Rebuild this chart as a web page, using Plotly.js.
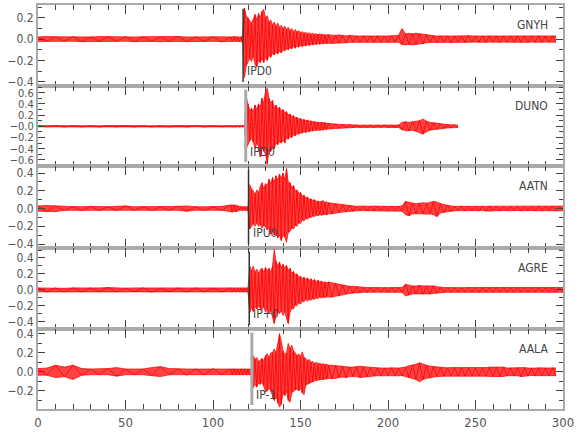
<!DOCTYPE html>
<html>
<head>
<meta charset="utf-8">
<script src="https://cdn.plot.ly/plotly-3.0.1.min.js"></script>
<style>html,body{margin:0;padding:0;background:#fff;}#chart{width:580px;height:440px;}</style>
</head>
<body>
<div id="chart"></div>
<script>
// shared time grid (seconds): A = 0..110 step 5 (23), B = 111..166 step 1 (56), C = 168..300 step 2 (67)
const timeA = [0,5,10,15,20,25,30,35,40,45,50,55,60,65,70,75,80,85,90,95,100,105,110];
const timeB = [111,112,113,114,115,116,117,118,119,120,121,122,123,124,125,126,127,128,129,130,131,132,133,134,135,136,137,138,139,140,141,142,143,144,145,146,147,148,149,150,151,152,153,154,155,156,157,158,159,160,161,162,163,164,165,166];
const timeC = [168,170,172,174,176,178,180,182,184,186,188,190,192,194,196,198,200,202,204,206,208,210,212,214,216,218,220,222,224,226,228,230,232,234,236,238,240,242,244,246,248,250,252,254,256,258,260,262,264,266,268,270,272,274,276,278,280,282,284,286,288,290,292,294,296,298,300];

const stations = ["GNYH","DUNO","AATN","AGRE","AALA"];
const phaseLabels = ["IPD0","IPD0","IPU0","IP+0","IP-1"];
const pickTimes = [117.2,118.7,120.3,120.7,122.2];

// ---- GNYH envelope (upper / lower) ----
const gnyhUp = [
 0.02,0.025,0.022,0.02,0.025,0.022,0.02,0.024,0.022,0.02,
 0.025,0.02,0.022,0.024,0.02,0.022,0.025,0.02,0.022,0.02,
 0.024,0.022,0.02,
 0.022,0.02,0.025,0.02,0.022,0.02,0.03,0.29,0.22,0.2,
 0.17,0.15,0.19,0.23,0.18,0.24,0.2,0.26,0.28,0.2,
 0.22,0.16,0.18,0.13,0.16,0.12,0.15,0.11,0.13,0.1,
 0.12,0.09,0.11,0.08,0.1,0.07,0.09,0.065,0.08,0.06,
 0.07,0.055,0.065,0.05,0.06,0.045,0.055,0.045,0.05,0.04,
 0.05,0.04,0.045,0.038,0.042,0.04,
 0.04,0.035,0.04,0.035,0.03,0.035,0.03,0.03,0.028,0.032,
 0.03,0.028,0.03,0.032,0.03,0.028,0.03,0.03,0.028,0.035,
 0.1,0.05,0.055,0.05,0.055,0.05,0.045,0.04,0.032,0.03,
 0.028,0.03,0.032,0.03,0.028,0.03,0.03,0.028,0.03,0.032,
 0.03,0.028,0.03,0.03,0.028,0.03,0.032,0.03,0.028,0.03,
 0.03,0.028,0.03,0.03,0.03,0.032,0.03,0.028,0.03,0.03,
 0.028,0.03,0.032,0.03,0.03];
const gnyhLo = [
 -0.022,-0.02,-0.025,-0.022,-0.02,-0.024,-0.022,-0.02,-0.025,-0.022,
 -0.02,-0.024,-0.02,-0.022,-0.025,-0.02,-0.022,-0.024,-0.02,-0.022,
 -0.02,-0.025,-0.022,
 -0.02,-0.024,-0.02,-0.022,-0.02,-0.022,-0.03,-0.36,-0.25,-0.22,
 -0.18,-0.21,-0.16,-0.24,-0.26,-0.2,-0.22,-0.18,-0.22,-0.17,
 -0.2,-0.15,-0.17,-0.13,-0.15,-0.12,-0.14,-0.11,-0.13,-0.1,
 -0.11,-0.09,-0.1,-0.08,-0.09,-0.07,-0.085,-0.065,-0.075,-0.06,
 -0.07,-0.055,-0.065,-0.05,-0.06,-0.045,-0.055,-0.045,-0.05,-0.04,
 -0.048,-0.04,-0.045,-0.038,-0.042,-0.04,
 -0.04,-0.04,-0.035,-0.035,-0.035,-0.03,-0.03,-0.028,-0.03,-0.03,
 -0.028,-0.032,-0.03,-0.028,-0.03,-0.032,-0.03,-0.028,-0.03,-0.03,
 -0.05,-0.055,-0.05,-0.055,-0.05,-0.045,-0.045,-0.035,-0.03,-0.032,
 -0.03,-0.028,-0.03,-0.03,-0.032,-0.028,-0.03,-0.03,-0.032,-0.03,
 -0.028,-0.03,-0.032,-0.03,-0.03,-0.028,-0.03,-0.032,-0.03,-0.028,
 -0.03,-0.03,-0.028,-0.03,-0.03,-0.032,-0.03,-0.028,-0.03,-0.03,
 -0.03,-0.028,-0.03,-0.032,-0.03];

// ---- DUNO envelope ----
const dunoUp = [
 0.012,0.01,0.015,0.012,0.01,0.014,0.012,0.01,0.012,0.015,
 0.01,0.012,0.01,0.014,0.012,0.01,0.012,0.01,0.013,0.012,
 0.01,0.012,0.01,
 0.012,0.01,0.012,0.013,0.01,0.012,0.01,0.012,0.52,0.4,
 0.28,0.32,0.26,0.38,0.3,0.4,0.34,0.5,0.42,0.62,
 0.68,0.5,0.42,0.46,0.33,0.38,0.3,0.34,0.27,0.3,
 0.24,0.26,0.2,0.22,0.17,0.19,0.15,0.16,0.13,0.14,
 0.11,0.12,0.1,0.11,0.09,0.095,0.08,0.085,0.07,0.075,
 0.065,0.07,0.06,0.062,0.055,0.05,
 0.045,0.04,0.035,0.03,0.028,0.025,0.02,0.022,0.02,0.02,
 0.022,0.02,0.018,0.02,0.022,0.02,0.02,0.018,0.02,0.022,
 0.07,0.08,0.07,0.08,0.09,0.1,0.13,0.09,0.07,0.06,
 0.05,0.04,0.035,0.03,0.028,0.025,0.02];
const dunoLo = [
 -0.01,-0.012,-0.012,-0.014,-0.01,-0.012,-0.01,-0.013,-0.012,-0.01,
 -0.014,-0.012,-0.01,-0.012,-0.015,-0.01,-0.012,-0.012,-0.01,-0.013,
 -0.012,-0.01,-0.012,
 -0.01,-0.012,-0.012,-0.01,-0.013,-0.012,-0.012,-0.01,-0.4,-0.32,
 -0.26,-0.22,-0.28,-0.4,-0.3,-0.36,-0.55,-0.38,-0.45,-0.5,
 -0.68,-0.42,-0.45,-0.36,-0.4,-0.3,-0.33,-0.27,-0.3,-0.25,
 -0.3,-0.21,-0.23,-0.18,-0.2,-0.15,-0.17,-0.13,-0.14,-0.12,
 -0.12,-0.1,-0.11,-0.09,-0.095,-0.08,-0.085,-0.07,-0.075,-0.065,
 -0.07,-0.06,-0.062,-0.055,-0.055,-0.05,
 -0.045,-0.04,-0.035,-0.03,-0.028,-0.025,-0.02,-0.02,-0.022,-0.02,
 -0.018,-0.02,-0.022,-0.02,-0.02,-0.018,-0.022,-0.02,-0.02,-0.022,
 -0.06,-0.08,-0.08,-0.07,-0.09,-0.11,-0.14,-0.1,-0.07,-0.06,
 -0.05,-0.045,-0.035,-0.03,-0.028,-0.025,-0.02];

// ---- AATN envelope ----
const aatnUp = [
 0.03,0.035,0.03,0.025,0.02,0.02,0.025,0.02,0.02,0.025,
 0.03,0.02,0.02,0.025,0.02,0.02,0.025,0.03,0.02,0.02,
 0.02,0.025,0.04,
 0.04,0.035,0.04,0.03,0.025,0.02,0.02,0.02,0.02,0.02,
 0.27,0.22,0.2,0.16,0.21,0.18,0.25,0.29,0.22,0.28,
 0.26,0.33,0.28,0.35,0.3,0.37,0.32,0.39,0.34,0.4,
 0.32,0.45,0.3,0.29,0.24,0.26,0.2,0.21,0.17,0.18,
 0.14,0.15,0.12,0.13,0.1,0.11,0.09,0.1,0.08,0.085,
 0.075,0.08,0.09,0.07,0.075,0.065,
 0.06,0.05,0.045,0.04,0.04,0.035,0.03,0.025,0.028,0.025,
 0.022,0.025,0.028,0.025,0.022,0.025,0.025,0.028,0.025,0.025,
 0.03,0.08,0.07,0.06,0.055,0.06,0.065,0.06,0.07,0.08,
 0.075,0.055,0.045,0.035,0.03,0.025,0.025,0.028,0.025,0.022,
 0.025,0.025,0.028,0.025,0.03,0.03,0.028,0.025,0.025,0.022,
 0.025,0.028,0.025,0.025,0.022,0.025,0.028,0.025,0.025,0.028,
 0.025,0.022,0.025,0.028,0.025,0.025,0.028];
const aatnLo = [
 -0.03,-0.035,-0.035,-0.02,-0.02,-0.025,-0.02,-0.02,-0.02,-0.02,
 -0.025,-0.02,-0.02,-0.02,-0.02,-0.02,-0.02,-0.03,-0.02,-0.02,
 -0.02,-0.02,-0.035,
 -0.04,-0.03,-0.035,-0.03,-0.02,-0.02,-0.02,-0.02,-0.02,-0.02,
 -0.23,-0.2,-0.17,-0.2,-0.16,-0.2,-0.18,-0.22,-0.19,-0.21,
 -0.24,-0.2,-0.29,-0.25,-0.3,-0.28,-0.33,-0.3,-0.36,-0.3,
 -0.32,-0.38,-0.27,-0.26,-0.22,-0.23,-0.19,-0.2,-0.16,-0.17,
 -0.13,-0.14,-0.11,-0.12,-0.1,-0.1,-0.085,-0.09,-0.075,-0.08,
 -0.07,-0.075,-0.07,-0.065,-0.07,-0.06,
 -0.06,-0.05,-0.045,-0.04,-0.035,-0.03,-0.03,-0.025,-0.022,-0.025,
 -0.025,-0.022,-0.025,-0.028,-0.025,-0.022,-0.025,-0.025,-0.022,-0.025,
 -0.03,-0.07,-0.08,-0.06,-0.06,-0.055,-0.06,-0.065,-0.06,-0.07,
 -0.09,-0.05,-0.04,-0.035,-0.03,-0.025,-0.022,-0.025,-0.028,-0.025,
 -0.022,-0.025,-0.025,-0.022,-0.03,-0.03,-0.025,-0.028,-0.025,-0.022,
 -0.025,-0.025,-0.022,-0.025,-0.028,-0.025,-0.022,-0.025,-0.028,-0.025,
 -0.025,-0.025,-0.022,-0.025,-0.028,-0.025,-0.025];

// ---- AGRE envelope ----
const agreUp = [
 0.025,0.022,0.025,0.02,0.025,0.022,0.025,0.025,0.03,0.025,
 0.022,0.025,0.025,0.03,0.022,0.025,0.025,0.022,0.025,0.025,
 0.022,0.025,0.025,
 0.025,0.022,0.025,0.025,0.022,0.025,0.025,0.022,0.025,0.025,
 0.3,0.24,0.3,0.22,0.26,0.21,0.25,0.27,0.22,0.28,
 0.24,0.27,0.22,0.3,0.51,0.36,0.3,0.35,0.28,0.32,
 0.27,0.31,0.24,0.27,0.21,0.23,0.19,0.2,0.16,0.17,
 0.14,0.16,0.13,0.15,0.12,0.14,0.11,0.13,0.1,0.12,
 0.1,0.11,0.09,0.1,0.09,0.1,
 0.09,0.08,0.07,0.06,0.05,0.045,0.045,0.04,0.04,0.032,
 0.03,0.03,0.028,0.03,0.032,0.03,0.028,0.03,0.03,0.032,
 0.03,0.07,0.06,0.05,0.05,0.055,0.05,0.05,0.048,0.05,
 0.04,0.032,0.03,0.03,0.028,0.03,0.032,0.03,0.028,0.03,
 0.03,0.032,0.03,0.028,0.03,0.03,0.032,0.03,0.028,0.03,
 0.03,0.028,0.03,0.032,0.03,0.028,0.03,0.03,0.032,0.03,
 0.03,0.028,0.03,0.032,0.03,0.03,0.03];
const agreLo = [
 -0.025,-0.025,-0.022,-0.025,-0.022,-0.025,-0.025,-0.022,-0.03,-0.025,
 -0.025,-0.022,-0.025,-0.03,-0.025,-0.022,-0.025,-0.025,-0.022,-0.025,
 -0.025,-0.022,-0.025,
 -0.025,-0.025,-0.022,-0.025,-0.025,-0.022,-0.025,-0.025,-0.022,-0.025,
 -0.28,-0.22,-0.27,-0.21,-0.24,-0.2,-0.23,-0.25,-0.21,-0.28,
 -0.23,-0.3,-0.26,-0.33,-0.42,-0.32,-0.27,-0.3,-0.26,-0.32,
 -0.27,-0.36,-0.42,-0.28,-0.23,-0.24,-0.19,-0.2,-0.16,-0.18,
 -0.14,-0.15,-0.12,-0.14,-0.12,-0.13,-0.11,-0.12,-0.1,-0.11,
 -0.09,-0.1,-0.09,-0.1,-0.085,-0.09,
 -0.09,-0.08,-0.07,-0.06,-0.05,-0.045,-0.04,-0.04,-0.035,-0.03,
 -0.032,-0.03,-0.03,-0.028,-0.03,-0.032,-0.03,-0.028,-0.03,-0.03,
 -0.032,-0.075,-0.06,-0.05,-0.05,-0.05,-0.055,-0.05,-0.05,-0.045,
 -0.04,-0.03,-0.032,-0.03,-0.03,-0.028,-0.03,-0.032,-0.03,-0.03,
 -0.028,-0.03,-0.032,-0.03,-0.03,-0.028,-0.03,-0.032,-0.03,-0.03,
 -0.028,-0.03,-0.032,-0.03,-0.03,-0.028,-0.03,-0.032,-0.03,-0.03,
 -0.03,-0.028,-0.03,-0.032,-0.03,-0.03,-0.03];

// ---- AALA envelope ----
const aalaUp = [
 0.035,0.04,0.07,0.05,0.07,0.035,0.03,0.03,0.035,0.045,
 0.03,0.03,0.03,0.045,0.055,0.035,0.03,0.03,0.03,0.03,
 0.035,0.03,0.03,
 0.03,0.032,0.03,0.028,0.03,0.032,0.03,0.03,0.028,0.03,
 0.032,0.03,0.17,0.13,0.15,0.11,0.12,0.14,0.12,0.17,
 0.19,0.15,0.2,0.2,0.24,0.2,0.3,0.4,0.32,0.22,
 0.18,0.2,0.3,0.24,0.28,0.22,0.2,0.17,0.19,0.16,
 0.21,0.15,0.14,0.12,0.13,0.1,0.11,0.09,0.1,0.085,
 0.09,0.08,0.085,0.075,0.08,0.07,
 0.07,0.065,0.06,0.06,0.055,0.05,0.05,0.055,0.06,0.055,
 0.05,0.045,0.04,0.042,0.04,0.038,0.04,0.042,0.04,0.04,
 0.045,0.05,0.065,0.07,0.08,0.095,0.08,0.07,0.06,0.055,
 0.05,0.045,0.045,0.042,0.045,0.045,0.042,0.045,0.045,0.045,
 0.042,0.045,0.045,0.042,0.045,0.05,0.05,0.045,0.05,0.05,
 0.04,0.042,0.04,0.045,0.05,0.045,0.04,0.038,0.04,0.042,
 0.04,0.04,0.04,0.042,0.04];
const aalaLo = [
 -0.035,-0.035,-0.06,-0.05,-0.08,-0.035,-0.03,-0.03,-0.03,-0.045,
 -0.03,-0.03,-0.03,-0.04,-0.05,-0.03,-0.03,-0.035,-0.03,-0.03,
 -0.03,-0.03,-0.03,
 -0.03,-0.03,-0.032,-0.03,-0.028,-0.03,-0.03,-0.032,-0.03,-0.03,
 -0.028,-0.03,-0.165,-0.13,-0.16,-0.12,-0.13,-0.11,-0.15,-0.21,
 -0.2,-0.17,-0.2,-0.26,-0.3,-0.26,-0.33,-0.37,-0.34,-0.22,
 -0.25,-0.2,-0.3,-0.32,-0.22,-0.2,-0.19,-0.18,-0.2,-0.17,
 -0.22,-0.24,-0.14,-0.13,-0.12,-0.11,-0.1,-0.095,-0.09,-0.085,
 -0.085,-0.08,-0.08,-0.075,-0.075,-0.07,
 -0.07,-0.07,-0.06,-0.055,-0.06,-0.05,-0.05,-0.05,-0.06,-0.055,
 -0.05,-0.045,-0.04,-0.04,-0.042,-0.04,-0.038,-0.04,-0.042,-0.04,
 -0.04,-0.05,-0.06,-0.07,-0.08,-0.105,-0.08,-0.07,-0.06,-0.055,
 -0.05,-0.045,-0.045,-0.045,-0.042,-0.045,-0.045,-0.042,-0.045,-0.045,
 -0.045,-0.045,-0.042,-0.045,-0.045,-0.05,-0.05,-0.045,-0.05,-0.048,
 -0.04,-0.04,-0.042,-0.04,-0.05,-0.045,-0.04,-0.038,-0.04,-0.042,
 -0.04,-0.04,-0.04,-0.04,-0.04];

const yRanges = [[-0.44,0.32],[-0.71,0.72],[-0.445,0.48],[-0.49,0.525],[-0.39,0.45]];
const yTickVals = [[-0.4,-0.2,0,0.2],[-0.6,-0.4,-0.2,0,0.2,0.4,0.6],[-0.4,-0.2,0,0.2,0.4],[-0.4,-0.2,0,0.2,0.4],[-0.2,0,0.2,0.4]];
const yTickText = [["−0.4","−0.2","0.0","0.2"],["−0.6","−0.4","−0.2","−0.0","0.2","0.4","0.6"],["−0.4","−0.2","0.0","0.2","0.4"],["−0.4","−0.2","0.0","0.2","0.4"],["−0.2","0.0","0.2","0.4"]];
const xTickVals = [0,50,100,150,200,250,300];

const time = timeA.concat(timeB, timeC);
const ups = [gnyhUp, dunoUp, aatnUp, agreUp, aalaUp];
const los = [gnyhLo, dunoLo, aatnLo, agreLo, aalaLo];

const FONT = "Liberation Sans Narrow, DejaVu Sans Condensed, Arial Narrow, sans-serif";
const domains = [[0.7995,1],[0.6015,0.7995],[0.3985,0.6015],[0.198,0.3985],[0,0.198]];
const pickStyle = [{c:'#333',w:1.5},{c:'#aaa',w:3},{c:'#333',w:1.5},{c:'#333',w:1.5},{c:'#aaa',w:3}];
const yFontSize = [12,11,12,12,12];

const data = [];
const layout = {
  width:580, height:440,
  margin:{l:38,r:17,t:5,b:31},
  paper_bgcolor:'#fff', plot_bgcolor:'#fff',
  showlegend:false,
  font:{family:FONT, size:12, color:'#555'},
  shapes:[], annotations:[]
};

for (let i=0;i<5;i++){
  const n = i+1;
  const xs=[], yu=[], yl=[], zx=[], zy=[];
  for (let k=0;k<time.length;k++){
    const u = ups[i][k], l = los[i][k];
    if (u!==null && u!==undefined && l!==null && l!==undefined){
      xs.push(time[k]); yu.push(u); yl.push(l);
      zx.push(time[k]); zy.push(xs.length % 2 ? u : l);
    }
  }
  const xa = 'x'+(n===1?'':n), ya = 'y'+(n===1?'':n);
  data.push({x:xs,y:yu,xaxis:xa,yaxis:ya,type:'scatter',mode:'lines',line:{color:'#ff0000',width:0.7},hoverinfo:'skip'});
  data.push({x:xs,y:yl,xaxis:xa,yaxis:ya,type:'scatter',mode:'lines',fill:'tonexty',fillcolor:'rgba(255,20,20,0.8)',line:{color:'#ff0000',width:0.7},hoverinfo:'skip'});
  data.push({x:zx,y:zy,xaxis:xa,yaxis:ya,type:'scatter',mode:'lines',line:{color:'#ff0000',width:0.8},hoverinfo:'skip'});

  layout['xaxis'+(n===1?'':n)] = {
    anchor:ya, domain:[0,1], range:[0,300],
    showline:true, linecolor:'#aaa', linewidth:2, mirror:'ticks',
    ticks:'inside', ticklen:9, tickwidth:1, tickcolor:'#444',
    tickmode:'array', tickvals:xTickVals,
    minor:{dtick:10, tick0:0, ticks:'inside', ticklen:5, tickcolor:'#444', tickwidth:1},
    showgrid:false, zeroline:false,
    showticklabels:(n===5), tickfont:{family:FONT,size:13,color:'#555'}
  };
  layout['yaxis'+(n===1?'':n)] = {
    anchor:xa, domain:domains[i], range:yRanges[i],
    showline:true, linecolor:'#aaa', linewidth:2, mirror:'ticks',
    ticks:'inside', ticklen:7, tickwidth:1, tickcolor:'#444',
    tickmode:'array', tickvals:yTickVals[i], ticktext:yTickText[i],
    minor:{dtick:0.1, tick0:0, ticks:'inside', ticklen:4, tickcolor:'#444', tickwidth:1},
    showgrid:false, zeroline:false,
    tickfont:{family:FONT,size:yFontSize[i],color:'#555'}
  };
  layout.shapes.push({type:'line', xref:xa, yref:ya+' domain', x0:pickTimes[i], x1:pickTimes[i], y0:0.05, y1:0.955,
    line:{color:pickStyle[i].c, width:pickStyle[i].w}});
  layout.annotations.push({xref:xa+' domain', yref:ya+' domain', x:0.975, y:0.75, xanchor:'right', yanchor:'middle',
    text:stations[i], showarrow:false, font:{family:FONT,size:12,color:'#444'}});
  layout.annotations.push({xref:xa, yref:ya+' domain', x:pickTimes[i], y:0.18, xanchor:'left', yanchor:'middle', xshift:2,
    text:phaseLabels[i], showarrow:false, font:{family:FONT,size:12,color:'#444'}});
}

Plotly.newPlot('chart', data, layout, {staticPlot:true, displayModeBar:false});
</script>
</body>
</html>
